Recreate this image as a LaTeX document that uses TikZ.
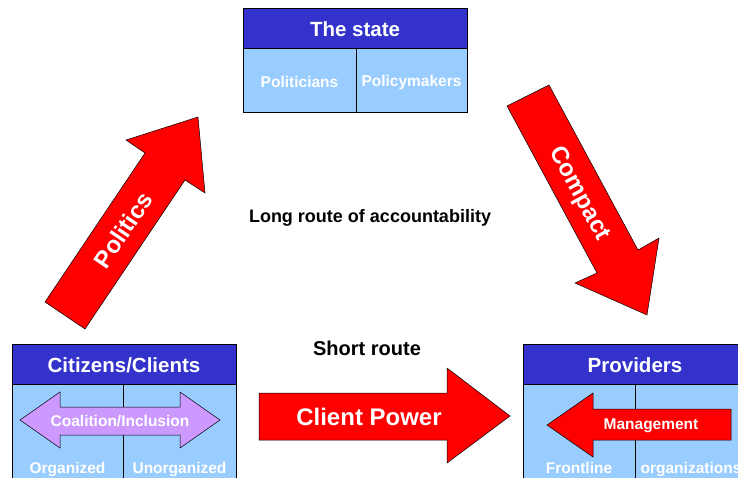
\documentclass[tikz,border=0pt]{standalone}
\usepackage{fontspec}
\setmainfont{Liberation Sans}
\usetikzlibrary{positioning}
\definecolor{hdrblue}{HTML}{3333CC}
\definecolor{cellblue}{HTML}{99CCFF}
\definecolor{lilac}{HTML}{CC99FF}

\begin{document}
\begin{tikzpicture}[x=1pt,y=-1pt,
    hdr/.style={draw=black, fill=hdrblue, line width=0.6pt},
    cell/.style={draw=black, fill=cellblue, line width=0.6pt},
    bigarrow/.style={draw=black, fill=red, line width=0.5pt},
    hlabel/.style={text=white, font=\bfseries\fontsize{20.5}{24}\selectfont},
    wlabel/.style={text=white, font=\bfseries\fontsize{15.5}{18}\selectfont},
    alabel/.style={text=white, font=\bfseries\fontsize{24}{28}\selectfont},
    route/.style={text=black, font=\bfseries\fontsize{18}{22}\selectfont}]
    \useasboundingbox (0,0) rectangle (738,477);
    \clip (0,0) rectangle (738,477);

    % the state
    \draw[cell] (243,48) rectangle (467,112);
    \draw (356,48) -- (356,112);
    \draw[hdr] (243,8) rectangle (467,48);
    \node[hlabel] (state) at (355,29) {The state};
    \node[wlabel] (politicians) at (299.5,82) {Politicians};
    \node[wlabel] (policymakers) at (411.5,82) {Policymakers};

    % citizens
    \draw[cell] (12,384) rectangle (236,490);
    \draw (123,384) -- (123,490);
    \draw[hdr] (12,344) rectangle (236,384);
    \node[hlabel] (citizens) at (124,365) {Citizens/Clients};
    \draw[fill=lilac, line width=0.5pt] (20,420) -- (60,392) -- (60,407) -- (180,407) -- (180,392)
        -- (220,420) -- (180,448) -- (180,435) -- (60,435) -- (60,448) -- cycle;
    \node[wlabel] (coalition) at (120,421) {Coalition/Inclusion};
    \node[wlabel, anchor=base] (organized) at (67.5,473) {Organized};
    \node[wlabel, anchor=base] (unorganized) at (179.5,473) {Unorganized};

    % providers
    \draw[cell] (523,384) rectangle (747,490);
    \draw (635,384) -- (635,490);
    \draw[hdr] (523,344) rectangle (747,384);
    \node[hlabel] (providers) at (635,365) {Providers};
    \draw[bigarrow] (547,425) -- (593,393) -- (593,409) -- (731,409) -- (731,440)
        -- (593,440) -- (593,457) -- cycle;
    \node[wlabel] (management) at (651,426) {Management};
    \node[wlabel, anchor=base] (frontline) at (579,473) {Frontline};
    \node[wlabel, anchor=base] (organizations) at (691,473) {organizations};

    % routes
    \draw[bigarrow] (45,302) -- (145,153) -- (126,140) -- (198,117) -- (205,193)
        -- (185,180) -- (85,329) -- cycle;
    \node[alabel, rotate=56] (politics) at (123,230) {Politics};
    \draw[bigarrow] (507,106) -- (549,85) -- (638,250) -- (659,238) -- (647,315)
        -- (575,283) -- (597,273) -- cycle;
    \node[alabel, rotate=-61.7] (compact) at (579,194) {Compact};
    \draw[bigarrow] (259,393) -- (447,393) -- (447,368) -- (510,416) -- (447,463)
        -- (447,440) -- (259,440) -- cycle;
    \node[alabel] (clientpower) at (369,417) {Client Power};

    \node[route] (longroute) at (370,218) {Long route of accountability};
    \node[route, font=\bfseries\fontsize{20}{24}\selectfont] (shortroute) at (367,348) {Short route};
\end{tikzpicture}
\end{document}
